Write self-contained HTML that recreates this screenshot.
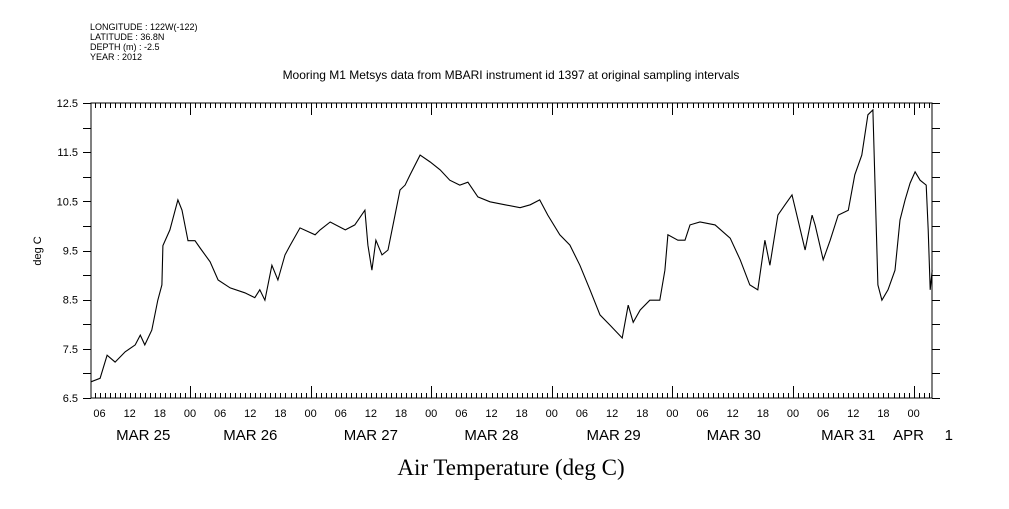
<!DOCTYPE html>
<html><head><meta charset="utf-8"><style>
body{margin:0;background:#fff;width:1009px;height:504px;overflow:hidden}
svg text{font-family:"Liberation Sans",sans-serif;fill:#000}
</style></head><body>
<svg id="chart" width="1009" height="504" viewBox="0 0 1009 504" xmlns="http://www.w3.org/2000/svg">
<g font-size="9">
<text x="90" y="30">LONGITUDE : 122W(-122)</text>
<text x="90" y="40">LATITUDE : 36.8N</text>
<text x="90" y="50">DEPTH (m) : -2.5</text>
<text x="90" y="60">YEAR : 2012</text>
</g>
<text x="511" y="79" font-size="12" text-anchor="middle">Mooring M1 Metsys data from MBARI instrument id 1397 at original sampling intervals</text>
<text x="511" y="475" font-size="23" text-anchor="middle" style="font-family:'Liberation Serif',serif">Air Temperature (deg C)</text>
<text transform="translate(41,251) rotate(-90)" font-size="11" text-anchor="middle">deg C</text>
<rect x="91" y="103" width="841" height="295" fill="none" stroke="#000" stroke-width="1"/>
<g id="axes"></g>
<g id="series"></g>
</svg>
<script>
const hours=[4.3,6.1,7.5,9.1,11.1,13.1,14.1,15.0,16.4,17.6,18.4,18.6,20.0,21.6,22.4,23.6,25.0,26.0,28.0,29.6,32.0,34.9,36.9,37.9,38.9,40.3,41.5,42.9,43.9,45.9,48.9,49.9,51.9,54.9,56.8,58.8,59.4,60.2,61.0,62.2,63.4,64.8,65.8,66.8,67.8,69.8,71.8,73.8,75.7,77.7,79.3,81.3,83.7,86.7,89.7,91.7,93.6,95.2,97.6,99.6,101.6,103.6,105.6,107.6,110.0,111.2,112.2,113.6,115.5,117.5,118.5,119.1,121.1,122.5,123.5,125.5,128.5,131.5,133.5,135.4,137.0,138.4,139.4,141.0,142.4,143.8,145.0,146.4,147.8,148.4,150.0,151.4,153.0,155.0,156.3,157.7,158.9,159.9,160.3,160.9,161.7,162.9,164.3,165.3,166.3,167.3,168.3,169.3,170.5,170.9,171.3,171.7];
const temps=[6.83,6.9,7.37,7.23,7.44,7.58,7.78,7.58,7.88,8.49,8.8,9.6,9.92,10.53,10.32,9.7,9.7,9.55,9.27,8.9,8.74,8.64,8.54,8.7,8.49,9.2,8.9,9.41,9.6,9.96,9.82,9.92,10.08,9.92,10.02,10.32,9.61,9.1,9.71,9.41,9.51,10.22,10.73,10.83,11.04,11.44,11.3,11.14,10.93,10.83,10.89,10.59,10.49,10.43,10.37,10.43,10.53,10.22,9.82,9.61,9.2,8.7,8.19,7.98,7.72,8.39,8.04,8.29,8.49,8.49,9.1,9.82,9.71,9.71,10.02,10.08,10.02,9.75,9.31,8.8,8.7,9.71,9.2,10.22,10.43,10.63,10.12,9.51,10.22,10.02,9.31,9.71,10.22,10.32,11.04,11.44,12.26,12.36,10.93,8.8,8.49,8.7,9.1,10.12,10.53,10.87,11.1,10.93,10.83,9.92,8.7,9.1];
const yTickLabels=["6.5","7.5","8.5","9.5","10.5","11.5","12.5"];
const dayLabels=["MAR 25","MAR 26","MAR 27","MAR 28","MAR 29","MAR 30","MAR 31","APR","1"];
const dayLabelHours=[14.7,36,60,84,108.3,132.2,155,167,175];
const X0=91,X1=932,Y0=398,Y1=103,H0=(91-69.4)/5.025,H1=(932-69.4)/5.025,V0=6.5,V1=12.5;
const xs=h=>X0+(h-H0)/(H1-H0)*(X1-X0);
const ys=v=>Y0-(v-V0)/(V1-V0)*(Y0-Y1);
const NS="http://www.w3.org/2000/svg";
const ax=document.getElementById('axes');
function mk(tag,attrs,parent){const e=document.createElementNS(NS,tag);for(const k in attrs)e.setAttribute(k,attrs[k]);parent.appendChild(e);return e;}
let tk="";
for(let v=6.5;v<=12.5001;v+=0.5){const y=Math.round(ys(v))+0.5;tk+=`M${X0-8} ${y}H${X0}M${X1} ${y}H${X1+8}`;}
for(let h=Math.ceil(H0);h<=H1;h++){const x=Math.round(xs(h))+0.5;const L=(h%24===0)?12:5;tk+=`M${x} ${Y0}V${Y0-L}M${x} ${Y1}V${Y1+L}`;}
const t=mk('path',{d:tk,stroke:'#000','stroke-width':1,fill:'none'},ax);


yTickLabels.forEach(s=>{const e=mk('text',{x:X0-13,y:ys(parseFloat(s))+4,'font-size':11,'text-anchor':'end'},ax);e.textContent=s;

});
for(let h=Math.ceil(H0/6)*6;h<=H1;h+=6){const e=mk('text',{x:xs(h),y:417,'font-size':11,'text-anchor':'middle'},ax);e.textContent=String(h%24).padStart(2,'0');

}
dayLabels.forEach((s,i)=>{const e=mk('text',{x:xs(dayLabelHours[i]),y:440,'font-size':15,'text-anchor':'middle'},ax);e.textContent=s;

});
const d=hours.map((h,i)=>(i?'L':'M')+xs(h).toFixed(1)+' '+ys(temps[i]).toFixed(1)).join('');
const p=mk('path',{d:d,stroke:'#000','stroke-width':1.1,fill:'none'},document.getElementById('series'));


</script>
</body></html>
